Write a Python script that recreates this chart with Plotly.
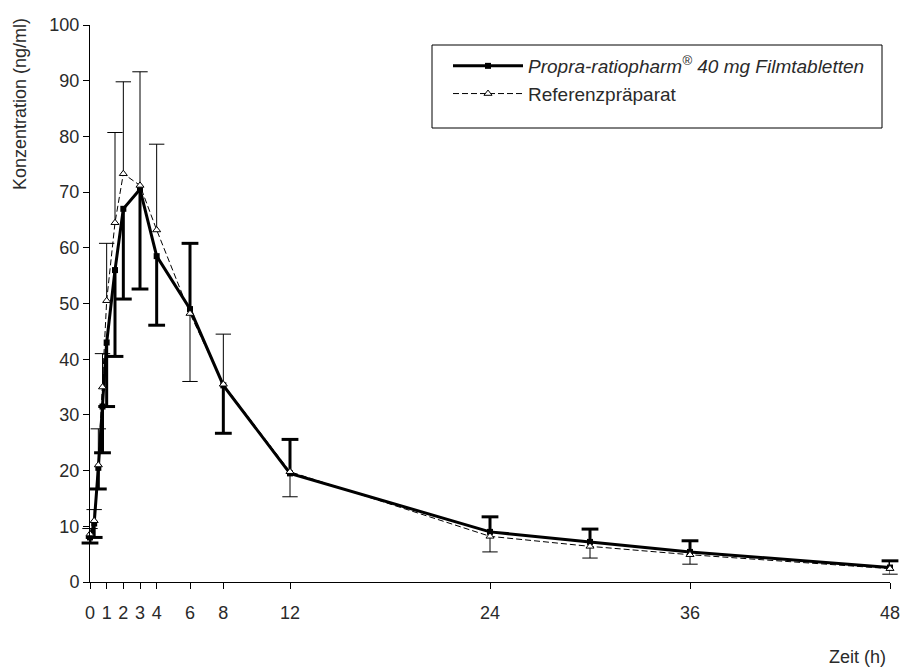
import plotly.graph_objects as go

# Sampling times (h)
times = [0, 0.25, 0.5, 0.75, 1, 1.5, 2, 3, 4, 6, 8, 12, 24, 30, 36, 48]

# Test product: mean concentration (ng/ml), SD, and direction of the drawn error bar
test_mean = [8.0, 10.5, 20.5, 31.5, 43.0, 56.0, 67.0, 70.5, 58.5, 49.0, 35.3, 19.5, 9.0, 7.2, 5.4, 2.6]
test_sd = [1.0, 2.5, 3.8, 8.3, 11.5, 15.5, 16.2, 17.9, 12.4, 11.8, 8.6, 6.1, 2.7, 2.3, 2.0, 1.2]
test_dir = [-1, -1, -1, -1, -1, -1, -1, -1, -1, 1, -1, 1, 1, 1, 1, 1]

# Reference product
ref_mean = [8.6, 11.0, 21.0, 35.0, 50.5, 64.5, 73.3, 71.2, 63.2, 48.2, 35.5, 19.8, 8.2, 6.4, 4.9, 2.4]
ref_sd = [1.0, 2.0, 6.5, 6.0, 10.3, 16.2, 16.5, 20.4, 15.4, 12.2, 9.0, 4.5, 2.8, 2.1, 1.7, 1.0]
ref_dir = [1, 1, 1, 1, 1, 1, 1, 1, 1, -1, 1, -1, -1, -1, -1, -1]

x_ticks = [0, 1, 2, 3, 4, 6, 8, 12, 24, 36, 48]
y_ticks = [0, 10, 20, 30, 40, 50, 60, 70, 80, 90, 100]

test_name = "<i>Propra-ratiopharm<sup>®</sup> 40 mg Filmtabletten</i>"
ref_name = "Referenzpräparat"

FONT = "Liberation Sans, Arial, sans-serif"
TXT = "#2a2a2a"


def err_segments(t, m, sd, d):
    xs, ys, cx, cy = [], [], [], []
    for ti, mi, si, di in zip(t, m, sd, d):
        end = mi + di * si
        xs += [ti, ti, None]
        ys += [mi, end, None]
        cx.append(ti)
        cy.append(end)
    return xs, ys, cx, cy


fig = go.Figure()

# Reference error bars (thin)
rx, ry, rcx, rcy = err_segments(times, ref_mean, ref_sd, ref_dir)
fig.add_trace(go.Scatter(x=rx, y=ry, mode="lines", line=dict(color="black", width=1),
                         showlegend=False, hoverinfo="skip", cliponaxis=False))
fig.add_trace(go.Scatter(x=rcx, y=rcy, mode="markers",
                         marker=dict(symbol="line-ew", size=11, line=dict(color="black", width=1)),
                         showlegend=False, hoverinfo="skip", cliponaxis=False))

# Test error bars (thick)
tx, ty, tcx, tcy = err_segments(times, test_mean, test_sd, test_dir)
fig.add_trace(go.Scatter(x=tx, y=ty, mode="lines", line=dict(color="black", width=3),
                         showlegend=False, hoverinfo="skip", cliponaxis=False))
fig.add_trace(go.Scatter(x=tcx, y=tcy, mode="markers",
                         marker=dict(symbol="line-ew", size=12, line=dict(color="black", width=3)),
                         showlegend=False, hoverinfo="skip", cliponaxis=False))

# Test line
fig.add_trace(go.Scatter(x=times, y=test_mean, mode="lines+markers", name=test_name,
                         line=dict(color="black", width=3),
                         marker=dict(symbol="square", size=6, color="black"),
                         cliponaxis=False))

# Reference line
fig.add_trace(go.Scatter(x=times, y=ref_mean, mode="lines+markers", name=ref_name,
                         line=dict(color="black", width=1, dash="6px,3px"),
                         marker=dict(symbol="triangle-up", size=7, color="white",
                                     line=dict(color="black", width=1)),
                         cliponaxis=False))

# plot area: x 90..890 px, y 25..582 px
def px_x(p):
    return (p - 90) / 800.0


def px_y(p):
    return (582 - p) / 557.0


fig.update_layout(
    width=902, height=671,
    margin=dict(l=90, r=12, t=25, b=89, autoexpand=False),
    plot_bgcolor="white", paper_bgcolor="white",
    font=dict(family=FONT, size=18, color=TXT),
    showlegend=True,
    legend=dict(x=px_x(448), y=px_y(47), xanchor="left", yanchor="top",
                borderwidth=0, bgcolor="rgba(0,0,0,0)",
                font=dict(family=FONT, size=19, color=TXT),
                itemwidth=70, tracegroupgap=0),
    shapes=[
        dict(type="rect", xref="paper", yref="paper",
             x0=px_x(432), x1=px_x(882), y0=px_y(128), y1=px_y(45),
             line=dict(color="black", width=1), fillcolor="rgba(0,0,0,0)",
             layer="above"),
    ],
    xaxis=dict(range=[0, 48], tickmode="array", tickvals=x_ticks,
               ticktext=[str(v) for v in x_ticks],
               showline=True, linecolor="black", linewidth=1,
               ticks="outside", ticklen=6, tickcolor="black",
               ticklabelstandoff=8, automargin=False,
               tickfont=dict(family=FONT, size=18, color=TXT),
               showgrid=False, zeroline=False),
    yaxis=dict(range=[0, 100], tickmode="array", tickvals=y_ticks,
               ticktext=[str(v) for v in y_ticks],
               showline=True, linecolor="black", linewidth=1,
               ticks="outside", ticklen=6, tickcolor="black",
               automargin=False,
               tickfont=dict(family=FONT, size=18, color=TXT),
               showgrid=False, zeroline=False),
    annotations=[
        dict(text="Konzentration (ng/ml)", xref="paper", yref="paper",
             x=-0.0875, y=0.858, textangle=-90, showarrow=False,
             xanchor="center", yanchor="middle",
             font=dict(family=FONT, size=18, color=TXT)),
        dict(text="Zeit (h)", xref="paper", yref="paper",
             x=0.997, y=-0.135, showarrow=False,
             xanchor="right", yanchor="middle",
             font=dict(family=FONT, size=18, color=TXT)),
    ],
)

fig.write_html("out.html")
